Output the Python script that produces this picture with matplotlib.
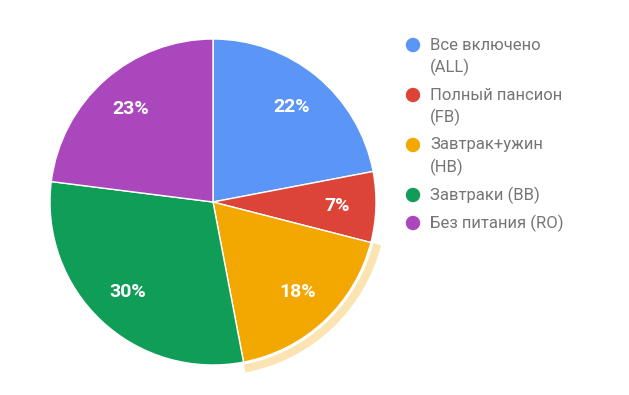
import matplotlib.pyplot as plt
from matplotlib.patches import Wedge, Ellipse

labels = ['Все включено\n(ALL)', 'Полный пансион\n(FB)', 'Завтрак+ужин\n(HB)',
          'Завтраки (BB)', 'Без питания (RO)']
shares = [22, 7, 18, 30, 23]
colors = ['#5b95f5', '#db4437', '#f2a800', '#0f9d58', '#ab47bc']
highlight = 2  # slice with hover ring

plt.rcParams['font.family'] = ['Roboto', 'DejaVu Sans']

fig = plt.figure(figsize=(6.29, 3.95), dpi=100)
W, H = 629, 395
cx, cy, r = 213, 202, 163
ax = fig.add_axes([(cx - r) / W, (H - cy - r) / H, 2 * r / W, 2 * r / H])

wedges, _, autotexts = ax.pie(
    shares, colors=colors, startangle=90, counterclock=False,
    autopct='%1.0f%%', pctdistance=0.76, radius=1,
    wedgeprops=dict(edgecolor='white', linewidth=1),
    textprops=dict(color='white', fontsize=14, fontweight='bold'))
ax.set_xlim(-1, 1)
ax.set_ylim(-1, 1)
ax.set_aspect('equal')
ax.axis('off')

# hover ring around the highlighted slice
w = wedges[highlight]
ring = Wedge((0, 0), 1.065, w.theta1, w.theta2, width=0.05,
             facecolor='#f2a800', alpha=0.3, edgecolor='none', clip_on=False)
ax.add_patch(ring)

# legend
lx, ty = 430, 45
for lab, col in zip(labels, colors):
    fig.patches.append(Ellipse((413 / W, 1 - ty / H), 13 / W, 13 / H,
                               transform=fig.transFigure, color=col))
    lines = lab.split('\n')
    for i, line in enumerate(lines):
        fig.text(lx / W, 1 - (ty + 22 * i) / H, line, color='#757575',
                 fontsize=12, va='center', ha='left')
    ty += 22 * len(lines) + 6

fig.savefig('out.png', dpi=100)
